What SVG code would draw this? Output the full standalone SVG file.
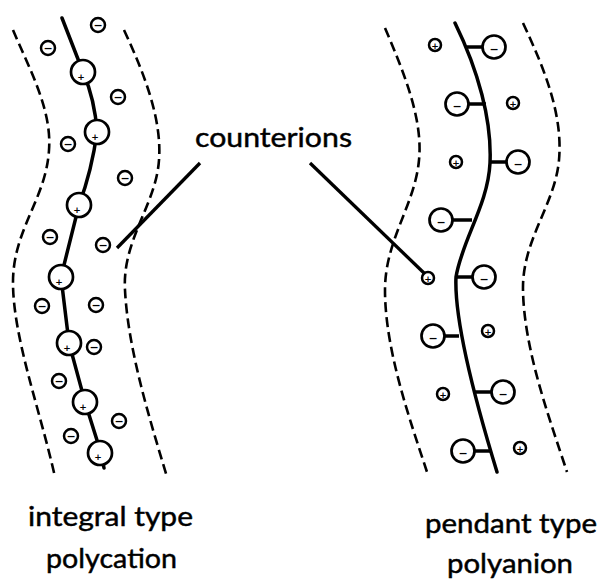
<svg xmlns="http://www.w3.org/2000/svg" width="600" height="579" viewBox="0 0 600 579">
<style>
.dash{fill:none;stroke:#000;stroke-width:2.6;stroke-dasharray:10 5}
.bb{fill:none;stroke:#000;stroke-width:3.5;stroke-linecap:round}
.big{fill:#fff;stroke:#000;stroke-width:2.7}
.sm{fill:#fff;stroke:#000;stroke-width:2.5}
.conn{stroke:#000;stroke-width:3.5}
.lead{stroke:#000;stroke-width:3.3;fill:none}
.ch{font-family:"DejaVu Sans",sans-serif;font-weight:bold;text-anchor:middle;dominant-baseline:central;fill:#000}
.lbl{font-family:Lato,"Liberation Sans",sans-serif;font-size:27px;fill:#000;stroke:#000;stroke-width:0.45}
</style>
<rect width="600" height="579" fill="#fff"/>
<g id="integral-polycation">
<path class="dash" d="M13,30 C30,70 52,110 49,150 C46,200 12,230 13,285 C14,340 40,410 55,477"/>
<path class="dash" d="M124,30 C145,75 162,120 159,160 C156,205 122,240 125,290 C128,350 150,420 167,477"/>
<path class="bb" d="M62,18 L83,72 Q95,100 97,132 Q92,170 79,205 L61,277 L69,343 L85,402 L101,453 L104,468"/>
<g class="big">
<circle cx="83" cy="72" r="12"/><circle cx="97" cy="132" r="12"/><circle cx="79" cy="205" r="12"/><circle cx="61" cy="277" r="12"/><circle cx="69" cy="343" r="12"/><circle cx="85" cy="402" r="12"/><circle cx="100" cy="453" r="12"/>
</g>
<g class="ch" font-size="9">
<text x="81" y="77">+</text><text x="95" y="137">+</text><text x="77" y="210">+</text><text x="59" y="282">+</text><text x="67" y="348">+</text><text x="83" y="407">+</text><text x="98" y="457">+</text>
</g>
<g class="sm">
<circle cx="98" cy="25" r="7"/><circle cx="48" cy="48" r="7"/><circle cx="118" cy="97" r="7"/><circle cx="68" cy="144" r="7"/><circle cx="125" cy="178" r="7"/><circle cx="50" cy="237" r="7"/><circle cx="103" cy="245" r="7"/><circle cx="42" cy="306" r="7"/><circle cx="96" cy="305" r="7"/><circle cx="94" cy="347" r="7"/><circle cx="59" cy="381" r="7"/><circle cx="119" cy="421" r="7"/><circle cx="71" cy="436" r="7"/>
</g>
<g class="ch" font-size="11">
<text x="98" y="25">−</text><text x="48" y="48">−</text><text x="118" y="97">−</text><text x="68" y="144">−</text><text x="125" y="178">−</text><text x="50" y="237">−</text><text x="103" y="245">−</text><text x="42" y="306">−</text><text x="96" y="305">−</text><text x="94" y="347">−</text><text x="59" y="381">−</text><text x="119" y="421">−</text><text x="71" y="436">−</text>
</g>
</g>
<g id="pendant-polyanion">
<path class="dash" d="M385,28 C405,75 423,120 419,160 C415,205 385,240 385,290 C385,350 410,420 427,472"/>
<path class="dash" d="M523,23 C545,70 563,115 559,160 C555,205 522,240 523,290 C524,350 550,420 567,472"/>
<path class="bb" d="M455,23 C478,70 492,120 490,163 C488,205 462,240 456,277 C454,320 475,400 497,472"/>
<g>
<line class="conn" x1="467" y1="47" x2="484" y2="47"/>
<line class="conn" x1="467" y1="104" x2="486" y2="104"/>
<line class="conn" x1="489" y1="162" x2="508" y2="162"/>
<line class="conn" x1="451" y1="220" x2="472" y2="220" stroke-width="4.5"/>
<line class="conn" x1="455" y1="277" x2="474" y2="277"/>
<line class="conn" x1="443" y1="336" x2="459" y2="336"/>
<line class="conn" x1="475" y1="392" x2="493" y2="392"/>
<line class="conn" x1="473" y1="451" x2="491" y2="451"/>
</g>
<g class="big">
<circle cx="494" cy="47" r="11.5"/><circle cx="457" cy="104" r="11.5"/><circle cx="518" cy="162" r="11.5"/><circle cx="441" cy="220" r="11.5"/><circle cx="484" cy="277" r="11.5"/><circle cx="433" cy="336" r="11.5"/><circle cx="503" cy="392" r="11.5"/><circle cx="463" cy="451" r="11.5"/>
</g>
<g class="ch" font-size="11">
<text x="494" y="49">−</text><text x="457" y="106">−</text><text x="518" y="164">−</text><text x="441" y="222">−</text><text x="484" y="279">−</text><text x="433" y="338">−</text><text x="503" y="394">−</text><text x="463" y="453">−</text>
</g>
<g class="sm">
<circle cx="435" cy="45" r="6"/><circle cx="513" cy="103" r="6"/><circle cx="456" cy="162" r="6"/><circle cx="428" cy="278" r="6"/><circle cx="488" cy="331" r="6"/><circle cx="443" cy="394" r="6"/><circle cx="520" cy="448" r="6"/>
</g>
<g class="ch" font-size="9">
<text x="435" y="46">+</text><text x="513" y="104">+</text><text x="456" y="163">+</text><text x="428" y="279">+</text><text x="488" y="332">+</text><text x="443" y="395">+</text><text x="520" y="449">+</text>
</g>
</g>
<g id="counterions-label">
<text class="lbl" x="195" y="147" textLength="157" lengthAdjust="spacingAndGlyphs">counterions</text>
</g>
<g id="connectors">
<line class="lead" x1="200" y1="163" x2="117" y2="248"/>
<line class="lead" x1="310" y1="163" x2="424" y2="273"/>
</g>
<g id="labels">
<text class="lbl" x="28" y="526" textLength="165" lengthAdjust="spacingAndGlyphs">integral type</text>
<text class="lbl" x="46" y="568" textLength="131" lengthAdjust="spacingAndGlyphs">polycation</text>
<text class="lbl" x="425" y="533" textLength="172" lengthAdjust="spacingAndGlyphs">pendant type</text>
<text class="lbl" x="447" y="573" textLength="126" lengthAdjust="spacingAndGlyphs">polyanion</text>
</g>
</svg>
